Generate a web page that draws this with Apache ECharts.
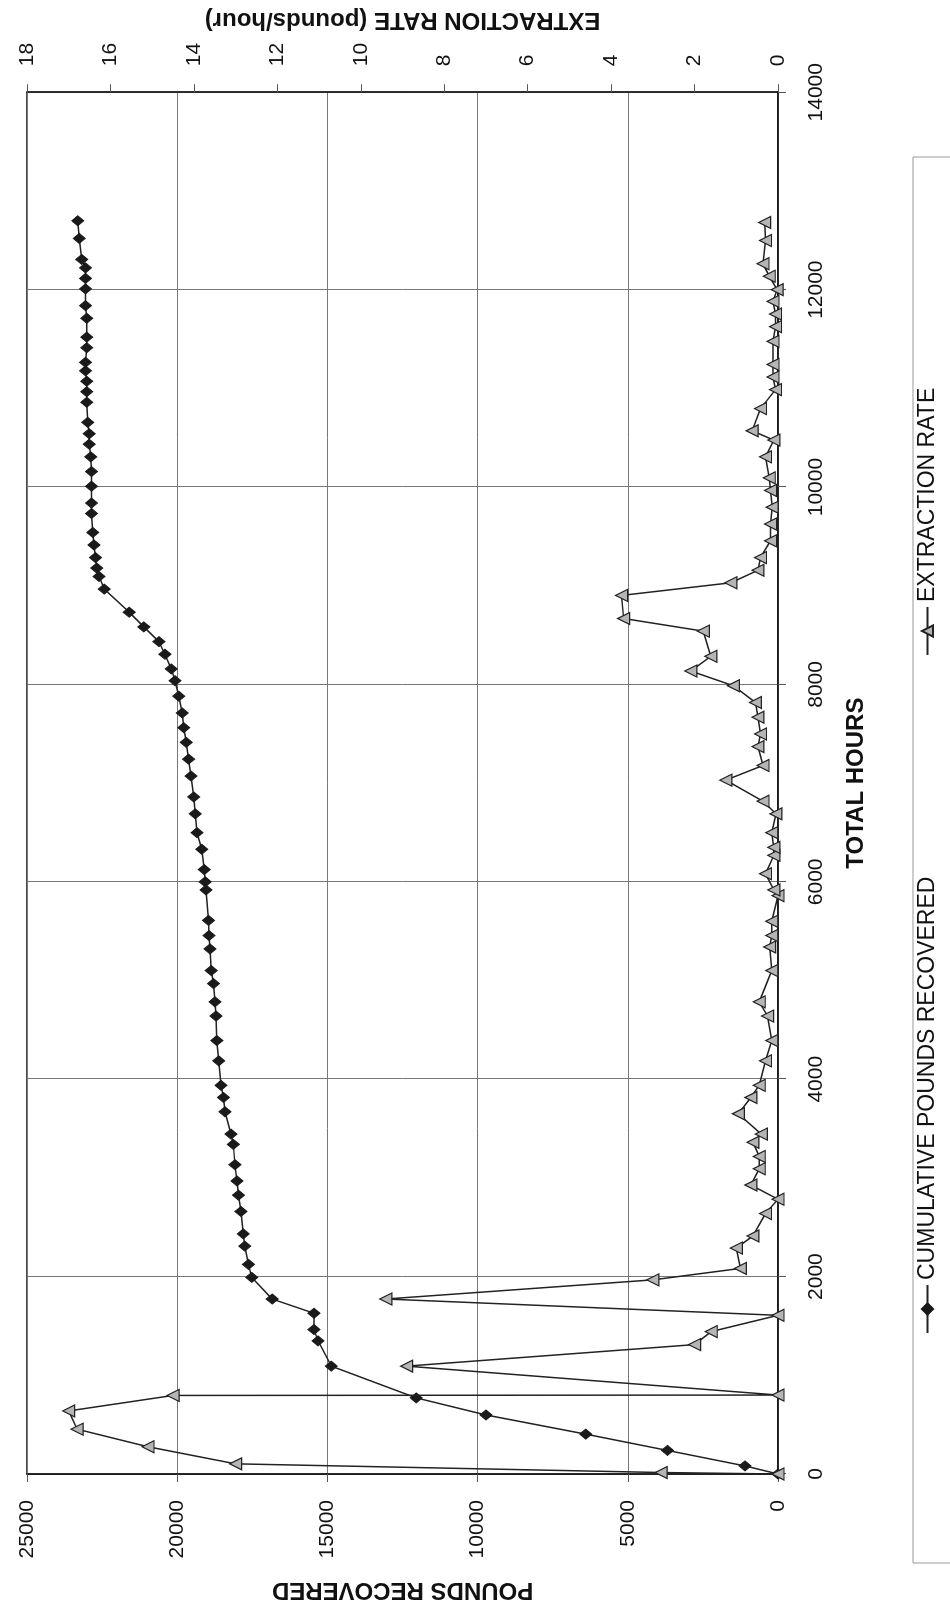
<!DOCTYPE html>
<html>
<head>
<meta charset="utf-8">
<script src="https://cdn.jsdelivr.net/npm/echarts@6/dist/echarts.min.js"></script>
<style>
html,body{margin:0;padding:0;background:#fff;width:950px;height:1611px;overflow:hidden;}
#wrap{position:absolute;left:0;top:0;width:1611px;height:950px;transform-origin:0 0;transform:translateY(1611px) rotate(-90deg);background:#fff;}
</style>
</head>
<body>
<div id="wrap"></div>
<script>
// Cumulative pounds recovered
const cumHours = [0, 82, 239, 404, 598, 771, 1093, 1349, 1464, 1629, 1773, 1992, 2124, 2309, 2433, 2660, 2825, 2969, 3134, 3340, 3444, 3670, 3815, 3938, 4186, 4392, 4640, 4784, 4969, 5101, 5320, 5456, 5609, 5918, 6000, 6124, 6330, 6498, 6689, 6860, 7072, 7243, 7413, 7562, 7711, 7881, 8038, 8157, 8306, 8434, 8583, 8732, 8966, 9094, 9179, 9285, 9413, 9540, 9732, 9838, 10008, 10157, 10306, 10434, 10540, 10655, 10859, 10966, 11072, 11178, 11264, 11412, 11519, 11710, 11838, 12008, 12114, 12221, 12306, 12519, 12698];
const cumPounds = [0, 1100, 3680, 6400, 9720, 12040, 14870, 15310, 15450, 15450, 16840, 17520, 17630, 17750, 17800, 17880, 17960, 18010, 18080, 18130, 18210, 18410, 18460, 18540, 18620, 18680, 18710, 18740, 18790, 18870, 18910, 18940, 18960, 19040, 19070, 19100, 19180, 19340, 19400, 19450, 19540, 19620, 19700, 19780, 19830, 19950, 20070, 20200, 20410, 20610, 21110, 21600, 22430, 22600, 22680, 22720, 22770, 22810, 22850, 22850, 22850, 22850, 22880, 22930, 22930, 22980, 23010, 23010, 23010, 23050, 23050, 23010, 23010, 23010, 23050, 23050, 23050, 23050, 23180, 23260, 23310];

// Extraction rate (pounds/hour)
const rateHours = [0, 15, 103, 276, 454, 639, 796, 800, 1093, 1311, 1443, 1608, 1773, 1967, 2083, 2289, 2412, 2639, 2784, 2928, 3093, 3217, 3361, 3444, 3650, 3815, 3938, 4186, 4392, 4640, 4784, 5101, 5340, 5456, 5600, 5860, 5918, 6082, 6268, 6349, 6498, 6689, 6817, 7030, 7179, 7370, 7498, 7668, 7817, 7987, 8136, 8285, 8540, 8668, 8902, 9030, 9157, 9285, 9455, 9625, 9796, 9966, 10093, 10306, 10476, 10570, 10795, 10987, 11115, 11242, 11476, 11625, 11753, 11881, 12000, 12136, 12263, 12498, 12681];
const rateValues = [0, 2.8, 13.0, 15.1, 16.8, 17.0, 14.5, 0, 8.9, 2.0, 1.6, 0, 9.4, 3.0, 0.9, 1.0, 0.6, 0.3, 0, 0.65, 0.45, 0.45, 0.6, 0.4, 0.95, 0.65, 0.45, 0.3, 0.15, 0.25, 0.45, 0.15, 0.2, 0.15, 0.15, 0, 0.1, 0.3, 0.1, 0.1, 0.15, 0.05, 0.36, 1.25, 0.36, 0.48, 0.42, 0.48, 0.54, 1.07, 2.09, 1.61, 1.79, 3.7, 3.75, 1.13, 0.48, 0.42, 0.18, 0.18, 0.14, 0.18, 0.21, 0.3, 0.1, 0.62, 0.42, 0.06, 0.12, 0.12, 0.12, 0.06, 0.06, 0.12, 0.02, 0.21, 0.36, 0.3, 0.32];

const seriesNames = ['CUMULATIVE POUNDS RECOVERED', 'EXTRACTION RATE'];
const axisTitles = {hours: 'TOTAL HOURS', pounds: 'POUNDS RECOVERED', rate: 'EXTRACTION RATE (pounds/hour)'};

const FONT = '"Liberation Sans", Arial, sans-serif';
const chart = echarts.init(document.getElementById('wrap'), null, {renderer: 'canvas'});

const cumData = cumHours.map((h, i) => [h, cumPounds[i]]);
const rateData = rateHours.map((h, i) => [h, rateValues[i]]);

const plain = v => String(v);
const tickLabel = {color: '#111', fontFamily: FONT, fontSize: 21, formatter: plain};
const nameStyle = {color: '#111', fontFamily: FONT, fontSize: 24, fontWeight: 'bold'};

chart.setOption({
  animation: false,
  backgroundColor: '#fff',
  grid: {left: 137, right: 89, top: 27, bottom: 172, show: true, borderColor: '#111', borderWidth: 1.5, backgroundColor: '#fff'},
  xAxis: {
    type: 'value', min: 0, max: 14000, interval: 2000,
    name: axisTitles.hours, nameLocation: 'middle', nameGap: 66, nameTextStyle: nameStyle,
    axisLine: {show: true, lineStyle: {color: '#111', width: 1.5}},
    axisTick: {show: true, inside: false, length: 8, lineStyle: {color: '#555'}},
    axisLabel: Object.assign({margin: 28}, tickLabel),
    splitLine: {show: true, lineStyle: {color: '#777', width: 1}}
  },
  yAxis: [
    {
      type: 'value', min: 0, max: 25000, interval: 5000, position: 'left',
      name: axisTitles.pounds, nameLocation: 'middle', nameGap: 104, nameRotate: 90, nameTextStyle: nameStyle,
      axisLine: {show: true, lineStyle: {color: '#111', width: 1.5}},
      axisTick: {show: true, inside: false, length: 8, lineStyle: {color: '#555'}},
      axisLabel: Object.assign({margin: 26}, tickLabel),
      splitLine: {show: true, lineStyle: {color: '#777', width: 1}}
    },
    {
      type: 'value', min: 0, max: 18, interval: 2, position: 'right',
      name: axisTitles.rate, nameLocation: 'middle', nameGap: 58, nameRotate: 90, nameTextStyle: nameStyle,
      axisLine: {show: true, lineStyle: {color: '#111', width: 1.5}},
      axisTick: {show: true, inside: false, length: 8, lineStyle: {color: '#555'}},
      axisLabel: Object.assign({margin: 26}, tickLabel),
      splitLine: {show: false}
    }
  ],
  legend: [
    {data: [seriesNames[0]], left: 277, top: 916, padding: 0, itemWidth: 48, itemHeight: 14, itemGap: 0,
     textStyle: {color: '#111', fontFamily: FONT, fontSize: 23}},
    {data: [seriesNames[1]], left: 955, top: 916, padding: 0, itemWidth: 48, itemHeight: 14, itemGap: 0,
     textStyle: {color: '#111', fontFamily: FONT, fontSize: 23}}
  ],
  graphic: [
    {type: 'rect', shape: {x: 48, y: 913, width: 1406, height: 60}, style: {fill: 'none', stroke: '#999', lineWidth: 1}, silent: true, z: -1}
  ],
  series: [
    {
      name: seriesNames[0], type: 'line', yAxisIndex: 0, data: cumData,
      symbol: 'diamond', symbolSize: [10, 12], showSymbol: true,
      lineStyle: {color: '#222', width: 1.5},
      itemStyle: {color: '#1a1a1a', borderColor: '#1a1a1a', borderWidth: 1},
      z: 3
    },
    {
      name: seriesNames[1], type: 'line', yAxisIndex: 1, data: rateData,
      symbol: 'triangle', symbolSize: 12, showSymbol: true,
      lineStyle: {color: '#222', width: 1.5},
      itemStyle: {color: '#b5b5b5', borderColor: '#222', borderWidth: 1.2},
      z: 4
    }
  ]
});
</script>
</body>
</html>
